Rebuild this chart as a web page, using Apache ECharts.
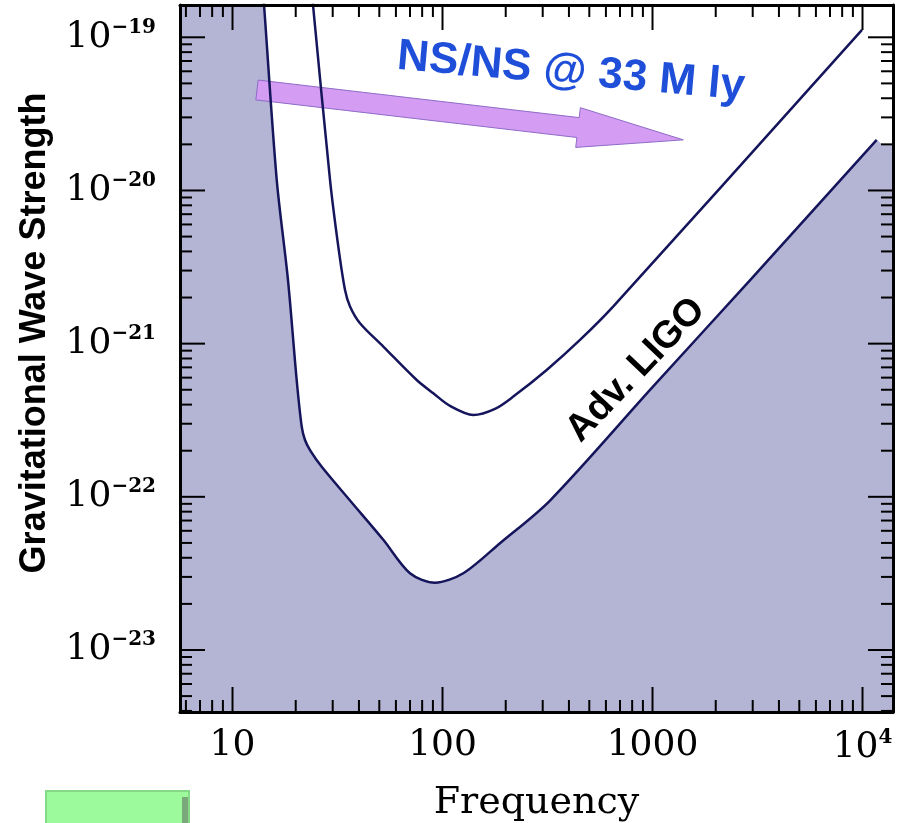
<!DOCTYPE html>
<html><head><meta charset="utf-8">
<script src="https://cdn.jsdelivr.net/npm/echarts@6/dist/echarts.min.js"></script>
<style>html,body{margin:0;padding:0;background:#fff}#c{width:906px;height:823px}</style>
</head><body><div id="c"></div>
<script>
// ---- data ----
const advLigoFreq   = [13.97, 14.13, 16.24, 18.37, 20.21, 21.36, 22.14, 23.39, 26.6, 36.27, 52.25, 70.0, 92.1, 125.6, 187.8, 325, 1000, 2968, 11683];
const advLigoStrain = [1.995e-19, 1.626e-19, 1.172e-20, 2.61e-21, 5.79e-22, 2.87e-22, 2.35e-22, 2.02e-22, 1.57e-22, 9.46e-23, 5.24e-23, 3.17e-23, 2.75e-23, 3.17e-23, 4.98e-23, 9.46e-23, 5.2e-22, 2.67e-21, 2.14e-20];
const advFillRightStrain = 1.98e-20;   // shaded region's edge right of the curve's end
const initLigoFreq   = [23.84, 24.17, 29.13, 31.9, 34.34, 36.27, 40.47, 52.25, 75.37, 90.4, 108.6, 140.2, 177.8, 217.3, 313.4, 451.6, 650.8, 9945];
const initLigoStrain = [1.995e-19, 1.626e-19, 1.172e-20, 4.30e-21, 2.24e-21, 1.75e-21, 1.36e-21, 9.57e-22, 5.79e-22, 4.74e-22, 3.92e-22, 3.42e-22, 3.75e-22, 4.51e-22, 6.73e-22, 1.057e-21, 1.75e-21, 1.117e-19];
const xMajorTicks = [10, 100, 1000, 10000];
const yMajorTicks = [1e-23, 1e-22, 1e-21, 1e-20, 1e-19];
const xTickLabels = ['10', '100', '1000', '{b|10}{s|4}'];
const yTickLabels = ['{b|10}{s|−23}', '{b|10}{s|−22}', '{b|10}{s|−21}', '{b|10}{s|−20}', '{b|10}{s|−19}'];
const xRange = [5.623, 13970];
const yRange = [3.937e-24, 1.625e-19];
const arrowFrom = [13.08, 4.53e-20];
const arrowTo   = [1402, 2.14e-20];
const arrowText = 'NS/NS @ 33 M ly';
const curveText = 'Adv. LIGO';
const xName = 'Frequency';
const yName = 'Gravitational Wave Strength';

// ---- build ----
const SMOOTH = 0.3;
function minorTicks(range) {
  const out = [];
  const lo = Math.floor(Math.log10(range[0])), hi = Math.ceil(Math.log10(range[1]));
  for (let d = lo; d < hi; d++) for (let k = 2; k <= 9; k++) {
    const v = k * Math.pow(10, d);
    if (v > range[0] * 1.001 && v < range[1] * 0.999) out.push(v);
  }
  return out;
}
const yRef = 1e-21, xRef = 100;
const xTickData = xMajorTicks.map(v => [v, yRef, 1]).concat(minorTicks(xRange).map(v => [v, yRef, 0]));
const yTickData = yMajorTicks.map(v => [xRef, v, 1]).concat(minorTicks(yRange).map(v => [xRef, v, 0]));
const zip = (a, b) => a.map((v, i) => [v, b[i]]);
const advData = zip(advLigoFreq, advLigoStrain);
const initData = zip(initLigoFreq, initLigoStrain);

function expOf(v) { const e = Math.log10(v); return Math.abs(e - Math.round(e)) < 1e-6 ? Math.round(e) : null; }
function fmtX(v) { const e = expOf(v); if (e === null) return ''; const i = xMajorTicks.findIndex(t => Math.abs(Math.log10(t) - e) < 1e-6); return i < 0 ? '' : xTickLabels[i]; }
function fmtY(v) { const e = expOf(v); if (e === null) return ''; const i = yMajorTicks.findIndex(t => Math.abs(Math.log10(t) - e) < 1e-6); return i < 0 ? '' : yTickLabels[i]; }

const serif = '"DejaVu Serif", serif';
const sans = '"Liberation Sans", Arial, sans-serif';
const lineColor = '#15155c';
const richLbl = {
  b: { fontFamily: serif, fontSize: 36, lineHeight: 40, color: '#000' },
  s: { fontFamily: serif, fontSize: 20, fontWeight: 'bold', lineHeight: 26, verticalAlign: 'top', color: '#000' }
};
const axisBase = {
  type: 'log', logBase: 10,
  axisTick: { show: false }, minorTick: { show: false }, splitLine: { show: false },
  axisLine: { show: true, onZero: false, lineStyle: { color: '#000', width: 3 } },
  z: 10
};

// same smoothing rule as the line series, so the fill edge follows the drawn curve
function smoothPath(points, smooth) {
  const mn = Math.min, mx = Math.max;
  let d = '', prevX, prevY, cpx0, cpy0;
  const n = points.length;
  for (let i = 0; i < n; i++) {
    const x = points[i][0], y = points[i][1];
    if (i === 0) { d += 'L' + x + ' ' + y; cpx0 = x; cpy0 = y; }
    else {
      const ddx = x - prevX, ddy = y - prevY;
      if (ddx * ddx + ddy * ddy < 0.5) continue;
      let cpx1, cpy1, nx0 = x, ny0 = y;
      if (i + 1 >= n) { cpx1 = x; cpy1 = y; }
      else {
        const nextX = points[i + 1][0], nextY = points[i + 1][1];
        let vx = nextX - prevX, vy = nextY - prevY;
        const dx0 = x - prevX, dx1 = nextX - x, dy0 = y - prevY, dy1 = nextY - y;
        const lp = Math.sqrt(dx0 * dx0 + dy0 * dy0), ln = Math.sqrt(dx1 * dx1 + dy1 * dy1);
        const r = ln / (ln + lp);
        nx0 = x + vx * smooth * r; ny0 = y + vy * smooth * r;
        nx0 = mn(nx0, mx(nextX, x)); ny0 = mn(ny0, mx(nextY, y));
        nx0 = mx(nx0, mn(nextX, x)); ny0 = mx(ny0, mn(nextY, y));
        vx = nx0 - x; vy = ny0 - y;
        cpx1 = x - vx * lp / ln; cpy1 = y - vy * lp / ln;
        cpx1 = mn(cpx1, mx(prevX, x)); cpy1 = mn(cpy1, mx(prevY, y));
        cpx1 = mx(cpx1, mn(prevX, x)); cpy1 = mx(cpy1, mn(prevY, y));
        vx = x - cpx1; vy = y - cpy1;
        nx0 = x + vx * ln / lp; ny0 = y + vy * ln / lp;
      }
      d += ' C' + cpx0 + ' ' + cpy0 + ' ' + cpx1 + ' ' + cpy1 + ' ' + x + ' ' + y;
      cpx0 = nx0; cpy0 = ny0;
    }
    prevX = x; prevY = y;
  }
  return d;
}
function renderFill(params, api) {
  if (params.dataIndex !== 0) return null;
  const pts = advData.map(p => api.coord(p));
  const bl = api.coord([xRange[0], yRange[0]]);
  const tl = api.coord([xRange[0], advLigoStrain[0]]);
  const r0 = api.coord([advLigoFreq[advLigoFreq.length - 1] * 1.07, advFillRightStrain]);
  const r1 = api.coord([xRange[1], advFillRightStrain]);
  const br = api.coord([xRange[1], yRange[0]]);
  const d = 'M' + bl[0] + ' ' + bl[1] + ' L' + tl[0] + ' ' + tl[1] + ' ' + smoothPath(pts, SMOOTH) +
            ' L' + r0[0] + ' ' + r0[1] + ' L' + r1[0] + ' ' + r1[1] + ' L' + br[0] + ' ' + br[1] + ' Z';
  return { type: 'path', shape: { pathData: d }, style: { fill: '#b4b4d4' } };
}
function renderXTick(params, api) {
  const cs = params.coordSys;
  const px = api.coord([api.value(0), api.value(1)])[0];
  const len = api.value(2) ? 25 : 12;
  const st = { stroke: '#000', lineWidth: 2 };
  return { type: 'group', children: [
    { type: 'line', shape: { x1: px, y1: cs.y + cs.height, x2: px, y2: cs.y + cs.height - len }, style: st },
    { type: 'line', shape: { x1: px, y1: cs.y, x2: px, y2: cs.y + len }, style: st }
  ]};
}
function renderYTick(params, api) {
  const cs = params.coordSys;
  const py = api.coord([api.value(0), api.value(1)])[1];
  const len = api.value(2) ? 25 : 12;
  const st = { stroke: '#000', lineWidth: 2 };
  return { type: 'group', children: [
    { type: 'line', shape: { x1: cs.x, y1: py, x2: cs.x + len, y2: py }, style: st },
    { type: 'line', shape: { x1: cs.x + cs.width, y1: py, x2: cs.x + cs.width - len, y2: py }, style: st }
  ]};
}
function renderArrow(params, api) {
  const s = api.coord([api.value(0), api.value(1)]);
  const e = api.coord([api.value(2), api.value(3)]);
  const dx = e[0] - s[0], dy = e[1] - s[1], L = Math.hypot(dx, dy);
  const ux = dx / L, uy = dy / L, nx = -uy, ny = ux;
  const hw = 10, hh = 20, hl = 106;
  const bx = e[0] - ux * hl, by = e[1] - uy * hl;
  const pts = [
    [s[0] + nx * hw, s[1] + ny * hw], [bx + nx * hw, by + ny * hw], [bx + nx * hh, by + ny * hh],
    [e[0], e[1]],
    [bx - nx * hh, by - ny * hh], [bx - nx * hw, by - ny * hw], [s[0] - nx * hw, s[1] - ny * hw]
  ];
  return { type: 'polygon', shape: { points: pts }, style: { fill: '#d49cf2', stroke: '#8e6cc8', lineWidth: 1 } };
}

const chart = echarts.init(document.getElementById('c'), null, { renderer: 'canvas' });
chart.setOption({
  backgroundColor: '#fff',
  animation: false,
  grid: { left: 180, top: 5, right: 13, bottom: 111, show: true, backgroundColor: '#fff', borderWidth: 0,
          containLabel: false, outerBoundsMode: 'none' },
  xAxis: [
    Object.assign({}, axisBase, {
      position: 'bottom', min: xRange[0], max: xRange[1],
      axisLabel: { formatter: fmtX, margin: 16, color: '#000', fontFamily: serif, fontSize: 36, rich: richLbl },
      name: xName, nameLocation: 'middle', nameGap: 72,
      nameTextStyle: { fontFamily: serif, fontSize: 38, color: '#000' }
    }),
    Object.assign({}, axisBase, { position: 'top', min: xRange[0], max: xRange[1], axisLabel: { show: false } })
  ],
  yAxis: [
    Object.assign({}, axisBase, {
      position: 'left', min: yRange[0], max: yRange[1],
      axisLabel: { formatter: fmtY, margin: 24, color: '#000', fontFamily: serif, fontSize: 36, rich: richLbl }
    }),
    Object.assign({}, axisBase, { position: 'right', min: yRange[0], max: yRange[1], axisLabel: { show: false } })
  ],
  series: [
    { type: 'custom', renderItem: renderFill, data: advData, encode: { x: 0, y: 1 }, clip: true, z: 2, silent: true },
    { type: 'custom', renderItem: renderArrow, data: [[arrowFrom[0], arrowFrom[1], arrowTo[0], arrowTo[1]]],
      encode: { x: [0, 2], y: [1, 3] }, z: 3, silent: true },
    { type: 'line', data: advData, showSymbol: false, smooth: SMOOTH, lineStyle: { color: lineColor, width: 2.5 }, z: 4 },
    { type: 'line', data: initData, showSymbol: false, smooth: SMOOTH, lineStyle: { color: lineColor, width: 2.5 }, z: 4 },
    { type: 'custom', renderItem: renderXTick, data: xTickData, encode: { x: 0, y: 1 }, z: 11, silent: true },
    { type: 'custom', renderItem: renderYTick, data: yTickData, encode: { x: 0, y: 1 }, z: 11, silent: true }
  ],
  graphic: [
    { type: 'text', x: 35, y: 333, rotation: Math.PI / 2,
      style: { text: yName, font: 'bold 36px ' + sans, fill: '#000', align: 'center', verticalAlign: 'middle', textAlign: 'center', textVerticalAlign: 'middle' } },
    { type: 'text', x: 571, y: 72, rotation: -0.088, z: 20,
      style: { text: arrowText, font: 'bold 44px ' + sans, fill: '#1f4fd8', align: 'center', verticalAlign: 'middle', textAlign: 'center', textVerticalAlign: 'middle' } },
    { type: 'text', x: 636, y: 370, rotation: 0.81, z: 20,
      style: { text: curveText, font: 'bold 38px ' + sans, fill: '#000', align: 'center', verticalAlign: 'middle', textAlign: 'center', textVerticalAlign: 'middle' } },
    { type: 'rect', shape: { x: 46, y: 791, width: 143, height: 40 }, style: { fill: '#9cf99c', stroke: '#86d986', lineWidth: 2 } },
    { type: 'rect', shape: { x: 182, y: 797, width: 6, height: 30 }, style: { fill: '#7aa87a' } }
  ]
});
</script></body></html>
